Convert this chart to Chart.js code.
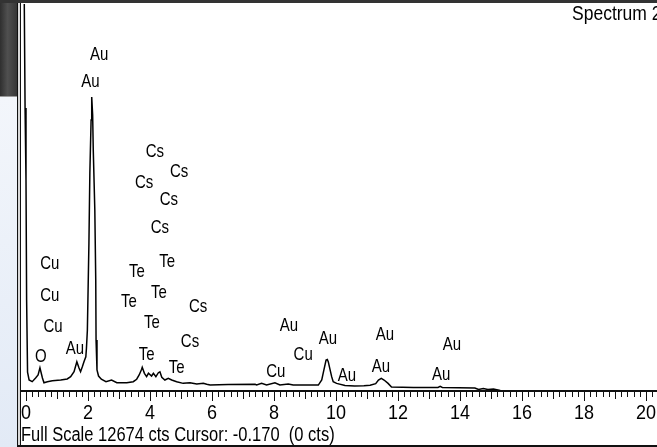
<!DOCTYPE html>
<html>
<head>
<meta charset="utf-8">
<script src="https://cdn.jsdelivr.net/npm/chart.js@4.4.0/dist/chart.umd.min.js"></script>
<style>
  html, body { margin: 0; padding: 0; background: #fff; }
  #wrap { position: relative; width: 657px; height: 447px; }
</style>
</head>
<body>
<div id="wrap"><canvas id="spectrum"></canvas></div>
<script>
// trace: energy (keV) and counts
const energyKeV = [
  -0.13, -0.065, -0.03, 0.0, 0.02, 0.05, 0.10, 0.20, 0.31, 0.39, 0.45, 0.53, 0.58, 0.69, 0.85,
  1.12, 1.33, 1.44, 1.55, 1.64, 1.71, 1.76, 1.82, 1.87, 1.93, 1.95, 1.98, 2.03, 2.06, 2.10,
  2.12, 2.15, 2.17, 2.22, 2.25, 2.26, 2.29, 2.34, 2.43, 2.58, 2.76, 2.93, 3.25, 3.46, 3.57,
  3.65, 3.73, 3.75, 3.82, 3.89, 3.95, 4.05, 4.11, 4.19, 4.27, 4.32, 4.38, 4.48, 4.59, 4.70,
  4.86, 5.07, 5.29, 5.51, 5.72, 5.83, 5.94, 6.52, 7.39, 7.44, 7.60, 7.76, 8.03, 8.19, 8.46,
  8.62, 8.90, 9.43, 9.54, 9.61, 9.68, 9.72, 9.75, 9.81, 9.86, 9.91, 10.02, 10.29, 10.60, 10.90,
  11.10, 11.28, 11.37, 11.46, 11.55, 11.68, 11.79, 12.50, 13.29, 13.36, 13.43, 14.48, 14.60, 14.75, 14.90,
  15.08, 15.30, 20.40
];
const counts = [
  14000, 14000, 9270, 6910, 2980, 620, 360, 305, 425, 525, 760, 425, 270, 305, 335,
  360, 395, 470, 630, 960, 750, 630, 800, 960, 1120, 1400, 2000, 4850, 7140, 8875,
  9630, 9040, 7890, 5930, 3635, 1670, 690, 490, 385, 305, 360, 270, 270, 305, 385,
  525, 710, 775, 580, 470, 580, 490, 580, 470, 600, 630, 450, 360, 415, 360,
  305, 250, 270, 230, 250, 220, 195, 210, 220, 195, 250, 195, 270, 195, 230,
  195, 195, 195, 360, 690, 1015, 1030, 960, 690, 470, 305, 250, 180, 165, 170,
  190, 240, 360, 415, 360, 250, 130, 115, 115, 150, 115, 100, 50, 80, 50,
  65, 15, 10
];

const xTicks = [0, 2, 4, 6, 8, 10, 12, 14, 16, 18, 20];
const fullScale = 12674;
const xMin = -0.129;
const xMax = 20.355;

// element markers (text, keV, cts where the label sits)
const peakNames = ['Au', 'Au', 'Cs', 'Cs', 'Cs', 'Cs', 'Cs', 'Te', 'Te', 'Te', 'Te', 'Te', 'Cs', 'Cs',
  'Cu', 'Cu', 'Cu', 'O', 'Au', 'Te', 'Te', 'Cu', 'Cu', 'Au', 'Au', 'Au', 'Au', 'Au', 'Au', 'Au'];
const peakKeV = [2.36, 2.08, 4.16, 4.94, 3.81, 4.61, 4.32, 4.55, 3.58, 4.29, 3.32, 4.06, 5.55, 5.29,
  0.77, 0.77, 0.87, 0.48, 1.58, 3.89, 4.86, 8.06, 8.94, 8.48, 9.74, 10.35, 11.58, 11.45, 13.74, 13.39];
const peakCts = [11004, 10120, 7827, 7172, 6812, 6255, 5338, 4225, 3897, 3210, 2915, 2227, 2751, 1605,
  4159, 3111, 2096, 1114, 1376, 1179, 753, 622, 1179, 2129, 1703, 491, 1834, 786, 1507, 524];

const spectrumName = 'Spectrum 2';
const statusText = 'Full Scale ' + fullScale + ' cts Cursor: -0.170  (0 cts)';

const FONT = '"Liberation Sans", Arial, sans-serif';

function tallText(c, txt, x, y, size, align) {
  c.save();
  c.translate(x, y);
  c.scale(1, 1.17);
  c.font = size + 'px ' + FONT;
  c.textAlign = align;
  c.textBaseline = 'middle';
  c.fillStyle = '#000';
  c.fillText(txt, 0, 0);
  c.restore();
}

const incaFrame = {
  id: 'incaFrame',
  beforeDraw(chart) {
    const c = chart.ctx;
    const W = chart.width, H = chart.height;
    c.save();
    c.fillStyle = '#fff';
    c.fillRect(0, 0, W, H);

    // window chrome on the left / top
    const g = c.createLinearGradient(0, 0, 17, 0);
    g.addColorStop(0, '#2f2f2f');
    g.addColorStop(0.45, '#505050');
    g.addColorStop(1, '#363636');
    c.fillStyle = g;
    c.fillRect(0, 0, 17, 96);
    c.fillStyle = '#333';
    c.fillRect(0, 0, W, 3);
    const lg = c.createLinearGradient(0, 97, 0, H);
    lg.addColorStop(0, '#f3f6fb');
    lg.addColorStop(1, '#e2eaf6');
    c.fillStyle = lg;
    c.fillRect(0, 97, 17, H - 97);
    c.fillStyle = '#9a9a9a';
    c.fillRect(0, 96, 17, 1);

    c.fillStyle = '#d8d8d8';
    c.fillRect(18, 3, 2, H - 3);
    c.fillStyle = '#111';
    c.fillRect(17, 3, 1, H - 3);
    c.fillRect(20, 3, 1, H - 3);
    c.fillRect(17, H - 2, W - 17, 2);
    c.restore();
  },
  afterDatasetsDraw(chart) {
    const c = chart.ctx;
    const xs = chart.scales.x, ys = chart.scales.y;
    const y0 = ys.getPixelForValue(0);
    c.save();
    // energy axis
    c.fillStyle = '#111';
    c.fillRect(21, y0 - 1, chart.width - 21, 2);
    for (let i = 0; i * 0.2 <= xMax; i++) {
      const px = Math.round(xs.getPixelForValue(i * 0.2));
      const len = i % 10 === 0 ? 9 : (i % 5 === 0 ? 7 : 5);
      c.fillRect(px, y0 + 1, 1, len);
    }
    xTicks.forEach(v => {
      tallText(c, String(v), xs.getPixelForValue(v), y0 + 22, 18, 'center');
    });

    // element labels
    peakNames.forEach((name, i) => {
      tallText(c, name, xs.getPixelForValue(peakKeV[i]), ys.getPixelForValue(peakCts[i]), 15, 'center');
    });

    tallText(c, spectrumName, 572, 14, 17.5, 'left');
    tallText(c, statusText, 21, 436, 16.5, 'left');
    c.restore();
  }
};

const ctx = document.getElementById('spectrum').getContext('2d');
new Chart(ctx, {
  type: 'line',
  data: {
    datasets: [{
      data: energyKeV.map((e, i) => ({ x: e, y: counts[i] })),
      borderColor: '#000',
      borderWidth: 1.5,
      pointRadius: 0,
      tension: 0,
      fill: false
    }]
  },
  options: {
    responsive: true,
    maintainAspectRatio: false,
    animation: false,
    layout: { padding: { left: 22, right: 0, top: 4, bottom: 56 } },
    scales: {
      x: { type: 'linear', min: xMin, max: xMax, display: false },
      y: { min: 0, max: fullScale, display: false }
    },
    plugins: {
      legend: { display: false },
      tooltip: { enabled: false }
    }
  },
  plugins: [incaFrame]
});
</script>
</body>
</html>
